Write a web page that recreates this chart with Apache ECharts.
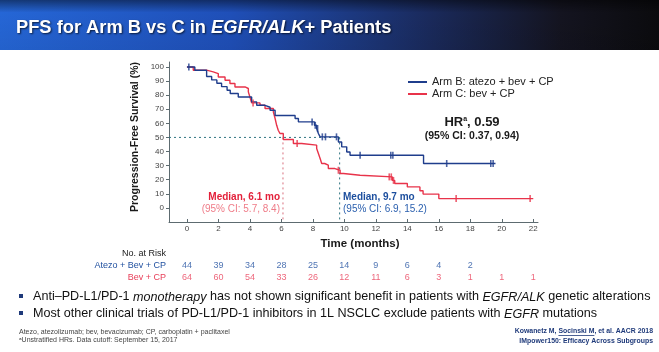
<!DOCTYPE html>
<html><head><meta charset="utf-8">
<script src="https://cdn.jsdelivr.net/npm/echarts@6/dist/echarts.min.js"></script>
<style>html,body{margin:0;padding:0;background:#fff}#c{width:659px;height:352px}</style>
</head><body><div id="c"></div>
<script>
// ---- data ----
const nameB = 'Arm B: atezo + bev + CP';
const nameC = 'Arm C: bev + CP';
const armB_t = [0, 0.5, 1.25, 1.57, 1.9, 2.2, 2.55, 2.75, 3.26, 4.11, 4.43, 4.96, 5.28, 5.6, 6.87, 7.08, 8.1, 8.24, 8.35, 8.46, 9.62, 9.83, 10.15, 10.36, 15.03, 19.6];
const armB_s = [100, 97.7, 93.2, 90.8, 88.4, 86, 83.5, 81.2, 78.7, 75.2, 72.8, 71.4, 69.3, 65.6, 63.4, 61, 58.6, 56.3, 52.8, 50.4, 46.8, 43.3, 39.7, 37.4, 31.5, 31.5];
const armC_t = [0, 0.4, 1.25, 1.67, 1.99, 2.42, 2.73, 3.05, 3.69, 3.9, 4.0, 4.11, 4.64, 4.96, 5.49, 5.6, 5.7, 5.8, 5.91, 6.12, 6.76, 7.29, 8.24, 8.35, 8.46, 8.56, 8.75, 8.98, 9.4, 9.73, 9.94, 11.0, 13.05, 13.2, 14.0, 14.8, 15.0, 16.0, 22.0];
const armC_s = [100, 97.7, 96.5, 95.3, 92.9, 90.6, 88.2, 85.8, 84.7, 82.3, 78.7, 74.5, 72.8, 70.5, 68, 63.4, 58.6, 55.1, 52.8, 48.5, 45.7, 44.5, 42.1, 38.6, 35, 31.5, 30.3, 27.9, 26.7, 24.4, 23.2, 22, 19.5, 17.3, 14.9, 12.2, 9.8, 6.6, 6.6];
const censB_t = [0.12, 7.95, 8.15, 8.3, 8.6, 8.8, 9.5, 11.0, 12.95, 13.08, 16.5, 19.3, 19.45];
const censB_s = [100, 61, 58.6, 56.3, 50.4, 50.4, 50.4, 37.4, 37.4, 37.4, 31.5, 31.5, 31.5];
const censC_t = [4.2, 7.0, 9.62, 12.85, 12.98, 13.12, 17.1, 21.8];
const censC_s = [74.5, 45.7, 26.7, 22, 22, 19.5, 6.6, 6.6];
const medianB = 9.7, medianC = 6.1, medianLevel = 50;
const xTicks = [0, 2, 4, 6, 8, 10, 12, 14, 16, 18, 20, 22];
const yTicks = [0, 10, 20, 30, 40, 50, 60, 70, 80, 90, 100];
const riskTimes = [0, 2, 4, 6, 8, 10, 12, 14, 16, 18, 20, 22];
const riskB = [44, 39, 34, 28, 25, 14, 9, 6, 4, 2];
const riskC = [64, 60, 54, 33, 26, 12, 11, 6, 3, 1, 1, 1];
const riskRows = ['Atezo + Bev + CP', 'Bev + CP'];

// ---- styles ----
const FONT = "'Liberation Sans', Arial, sans-serif";
const BLUE = '#1f3d8c', RED = '#e8334a', NAVY = '#1f3a7a';
const X_MIN = -1.14, X_MAX = 22.3, Y_MIN = -10, Y_MAX = 103.5;

const zip = (a, b) => a.map((v, i) => [v, b[i]]);
const chart = echarts.init(document.getElementById('c'), null, {renderer: 'canvas'});

// measure text for the underline in the reference line
const mctx = document.createElement('canvas').getContext('2d');
const REF_FS = 6.9;
mctx.font = 'bold ' + REF_FS + 'px ' + FONT;
const refA = 'Kowanetz M, ', refU = 'Socinski M', refB = ', et al. AACR 2018';
const wA = mctx.measureText(refA).width, wU = mctx.measureText(refU).width, wB = mctx.measureText(refB).width;
const refRight = 653;
const uX1 = refRight - wA - wU - wB + wA, uX2 = uX1 + wU;

const option = {
  animation: false,
  backgroundColor: '#ffffff',
  textStyle: {fontFamily: FONT},
  grid: [
    {left: 169, right: 121, top: 62, bottom: 130},
    {left: 169, right: 121, top: 260, height: 24}
  ],
  legend: {
    data: [nameB, nameC], orient: 'vertical', left: 403, top: 71,
    icon: 'rect', itemWidth: 19, itemHeight: 2, itemGap: 0,
    textStyle: {fontSize: 11, color: '#222', fontFamily: FONT, lineHeight: 12}
  },
  xAxis: [{
    type: 'value', min: X_MIN, max: X_MAX, gridIndex: 0,
    axisLine: {show: true, onZero: false, lineStyle: {color: '#5d6b70', width: 1}},
    axisTick: {show: true, inside: true, length: 3, customValues: xTicks, lineStyle: {color: '#5d6b70'}},
    axisLabel: {customValues: xTicks, fontSize: 8, color: '#444', margin: 3},
    splitLine: {show: false}
  }, {
    type: 'value', min: X_MIN, max: X_MAX, gridIndex: 1, show: false
  }],
  yAxis: [{
    type: 'value', min: Y_MIN, max: Y_MAX, gridIndex: 0,
    axisLine: {show: true, onZero: false, lineStyle: {color: '#5d6b70', width: 1}},
    axisTick: {show: true, length: 3, customValues: yTicks, lineStyle: {color: '#5d6b70'}},
    axisLabel: {customValues: yTicks, fontSize: 8, color: '#444', margin: 5},
    splitLine: {show: false}
  }, {
    type: 'category', data: riskRows, gridIndex: 1, inverse: true, show: false
  }],
  series: [
    {name: nameB, type: 'line', step: 'end', data: zip(armB_t, armB_s), symbol: 'none',
     lineStyle: {color: BLUE, width: 1.4}, itemStyle: {color: BLUE}, z: 4},
    {name: nameC, type: 'line', step: 'end', data: zip(armC_t, armC_s), symbol: 'none',
     lineStyle: {color: RED, width: 1.4}, itemStyle: {color: RED}, z: 3},
    {name: 'censB', type: 'scatter', data: zip(censB_t, censB_s), symbol: 'rect', symbolSize: [1.6, 7],
     itemStyle: {color: BLUE}, z: 5},
    {name: 'censC', type: 'scatter', data: zip(censC_t, censC_s), symbol: 'rect', symbolSize: [1.6, 7],
     itemStyle: {color: RED}, z: 5},
    {name: 'medH', type: 'line', data: [[X_MIN, medianLevel], [medianB, medianLevel]], symbol: 'none',
     lineStyle: {color: '#2f7480', width: 1, type: [2, 3]}, z: 2},
    {name: 'medC', type: 'line', data: [[medianC, medianLevel], [medianC, Y_MIN]], symbol: 'none',
     lineStyle: {color: '#d9707e', width: 1, type: [2, 3]}, z: 2},
    {name: 'medB', type: 'line', data: [[medianB, medianLevel], [medianB, Y_MIN]], symbol: 'none',
     lineStyle: {color: '#2f7480', width: 1, type: [2, 3]}, z: 2},
    {name: 'riskB', type: 'scatter', xAxisIndex: 1, yAxisIndex: 1, symbolSize: 1,
     itemStyle: {color: 'rgba(0,0,0,0)'},
     data: riskB.map((v, i) => [riskTimes[i], riskRows[0], v]),
     label: {show: true, position: 'inside', formatter: p => p.value[2], fontSize: 9, color: '#1f4f9f', fontFamily: FONT}},
    {name: 'riskC', type: 'scatter', xAxisIndex: 1, yAxisIndex: 1, symbolSize: 1,
     itemStyle: {color: 'rgba(0,0,0,0)'},
     data: riskC.map((v, i) => [riskTimes[i], riskRows[1], v]),
     label: {show: true, position: 'inside', formatter: p => p.value[2], fontSize: 9, color: '#e8405a', fontFamily: FONT}}
  ],
  graphic: [
    {type: 'rect', z: -1, shape: {x: 0, y: 0, width: 659, height: 50},
     style: {fill: new echarts.graphic.LinearGradient(0, 0, 1, 0, [
       {offset: 0, color: '#2566d6'}, {offset: 0.35, color: '#1f4fb8'},
       {offset: 0.65, color: '#1a2a5c'}, {offset: 0.85, color: '#141420'}, {offset: 1, color: '#0b0b0e'}])}},
    {type: 'rect', z: -1, shape: {x: 0, y: 0, width: 659, height: 50},
     style: {fill: new echarts.graphic.LinearGradient(0, 0, 0, 1, [
       {offset: 0, color: 'rgba(0,0,0,0.45)'}, {offset: 0.25, color: 'rgba(0,0,0,0)'},
       {offset: 1, color: 'rgba(0,0,0,0.05)'}])}},
    {type: 'text', left: 16, top: 19, z: 10, style: {
      text: '{a|PFS for Arm B vs C in }{i|EGFR/ALK}{a|+ Patients}',
      rich: {
        a: {fontSize: 18.3, fontWeight: 'bold', fill: '#fff', fontFamily: FONT},
        i: {fontSize: 18.3, fontWeight: 'bold', fontStyle: 'italic', fill: '#fff', fontFamily: FONT}
      },
      textShadowColor: 'rgba(0,0,0,0.7)', textShadowBlur: 2, textShadowOffsetX: 1, textShadowOffsetY: 1}},
    {type: 'text', x: 135, y: 137, rotation: Math.PI / 2, style: {
      text: 'Progression-Free Survival (%)', fontSize: 10.5, fontWeight: 'bold', fill: '#1a1a1a',
      fontFamily: FONT, align: 'center', verticalAlign: 'middle'}},
    {type: 'text', x: 360, y: 244, style: {
      text: 'Time (months)', fontSize: 11.5, fontWeight: 'bold', fill: '#1a1a1a',
      fontFamily: FONT, align: 'center', verticalAlign: 'middle'}},
    {type: 'text', x: 472, y: 122, style: {
      text: '{b|HR}{s|a}{b|, 0.59}', align: 'center', verticalAlign: 'middle',
      rich: {b: {fontSize: 13, fontWeight: 'bold', fill: '#1a1a1a', fontFamily: FONT},
             s: {fontSize: 7, fontWeight: 'bold', fill: '#1a1a1a', fontFamily: FONT, verticalAlign: 'top', padding: [0, 0, 6, 0]}}}},
    {type: 'text', x: 472, y: 136, style: {
      text: '(95% CI: 0.37, 0.94)', fontSize: 10.5, fontWeight: 'bold', fill: '#1a1a1a',
      fontFamily: FONT, align: 'center', verticalAlign: 'middle'}},
    {type: 'text', x: 280, y: 197, style: {
      text: 'Median, 6.1 mo', fontSize: 10, fontWeight: 'bold', fill: '#e3203a',
      fontFamily: FONT, align: 'right', verticalAlign: 'middle'}},
    {type: 'text', x: 280, y: 209, style: {
      text: '(95% CI: 5.7, 8.4)', fontSize: 10, fill: '#ef7c88',
      fontFamily: FONT, align: 'right', verticalAlign: 'middle'}},
    {type: 'text', x: 343, y: 197, style: {
      text: 'Median, 9.7 mo', fontSize: 10, fontWeight: 'bold', fill: '#1d4f9e',
      fontFamily: FONT, align: 'left', verticalAlign: 'middle'}},
    {type: 'text', x: 343, y: 209, style: {
      text: '(95% CI: 6.9, 15.2)', fontSize: 10, fill: '#2a5fae',
      fontFamily: FONT, align: 'left', verticalAlign: 'middle'}},
    {type: 'text', x: 166, y: 254, style: {
      text: 'No. at Risk', fontSize: 9, fill: '#1a1a1a', fontFamily: FONT, align: 'right', verticalAlign: 'middle'}},
    {type: 'text', x: 166, y: 266, style: {
      text: riskRows[0], fontSize: 9, fill: '#1f4f9f', fontFamily: FONT, align: 'right', verticalAlign: 'middle'}},
    {type: 'text', x: 166, y: 278, style: {
      text: riskRows[1], fontSize: 9, fill: '#e8405a', fontFamily: FONT, align: 'right', verticalAlign: 'middle'}},
    {type: 'rect', shape: {x: 19, y: 294, width: 4, height: 4}, style: {fill: NAVY}},
    {type: 'rect', shape: {x: 19, y: 311, width: 4, height: 4}, style: {fill: NAVY}},
    {type: 'text', x: 33, y: 297, style: {
      text: '{n|Anti–PD-L1/PD-1 }{i|monotherapy}{n| has not shown significant benefit in patients with }{i|EGFR/ALK}{n| genetic alterations}',
      verticalAlign: 'middle',
      rich: {n: {fontSize: 12.6, fill: '#111', fontFamily: FONT}, i: {fontSize: 12.6, fill: '#111', fontStyle: 'italic', fontFamily: FONT}}}},
    {type: 'text', x: 33, y: 314, style: {
      text: '{n|Most other clinical trials of PD-L1/PD-1 inhibitors in 1L NSCLC exclude patients with }{i|EGFR}{n| mutations}',
      verticalAlign: 'middle',
      rich: {n: {fontSize: 12.6, fill: '#111', fontFamily: FONT}, i: {fontSize: 12.6, fill: '#111', fontStyle: 'italic', fontFamily: FONT}}}},
    {type: 'text', x: 19, y: 332, style: {
      text: 'Atezo, atezolizumab; bev, bevacizumab; CP, carboplatin + paclitaxel', fontSize: 7, fill: '#444',
      fontFamily: FONT, verticalAlign: 'middle'}},
    {type: 'text', x: 19, y: 340, style: {
      text: 'ᵃUnstratified HRs. Data cutoff: September 15, 2017', fontSize: 7, fill: '#444',
      fontFamily: FONT, verticalAlign: 'middle'}},
    {type: 'text', x: refRight, y: 331, style: {
      text: '{b|' + refA + '}{b|' + refU + '}{b|' + refB + '}', align: 'right', verticalAlign: 'middle',
      rich: {b: {fontSize: REF_FS, fontWeight: 'bold', fill: NAVY, fontFamily: FONT}}}},
    {type: 'line', shape: {x1: uX1, y1: 335.5, x2: uX2, y2: 335.5}, style: {stroke: NAVY, lineWidth: 0.8}},
    {type: 'text', x: refRight, y: 341, style: {
      text: 'IMpower150: Efficacy Across Subgroups', fontSize: REF_FS, fontWeight: 'bold', fill: NAVY,
      fontFamily: FONT, align: 'right', verticalAlign: 'middle'}}
  ]
};
chart.setOption(option);
</script>
</body></html>
